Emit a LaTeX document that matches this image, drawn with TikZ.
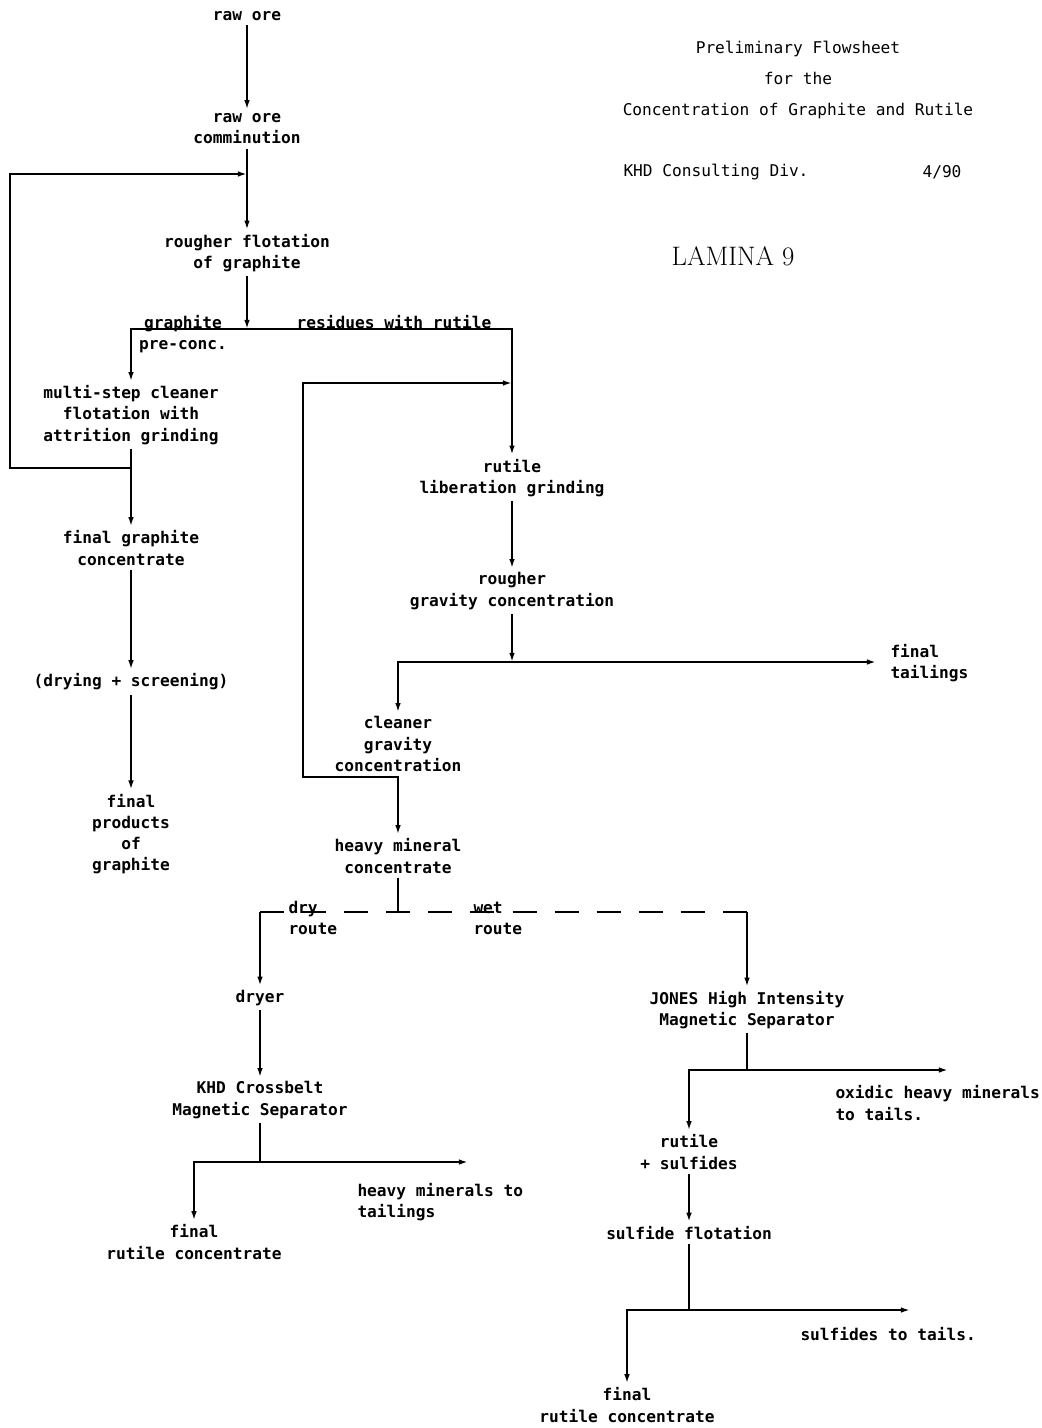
\documentclass[tikz,border=0pt]{standalone}
\usepackage{fontspec}
\setmonofont{DejaVu Sans Mono}
\usetikzlibrary{arrows.meta}

\tikzset{
  every node/.style={font=\ttfamily\bfseries\fontsize{11.5}{15}\selectfont, inner sep=3pt},
  box/.style={align=center},
  note/.style={align=left, anchor=west},
  pipe/.style={line width=1.7pt},
  flow/.style={pipe, -{Latex[length=6.5pt,width=4pt]}},
  dashpipe/.style={pipe, dash pattern=on 0.6cm off 0.452cm},
}

\begin{document}
\begin{tikzpicture}[x=0.025cm,y=-0.025cm]
    \useasboundingbox (0,0) rectangle (1041,1428);
    % header
    \node[box, font=\ttfamily\fontsize{11.5}{22}\selectfont] (title) at (798,80)
      {Preliminary Flowsheet\\for the\\Concentration of Graphite and Rutile};
    \node[note, font=\ttfamily\fontsize{11.5}{15}\selectfont] (div) at (619,172) {KHD Consulting Div.};
    \node[font=\ttfamily\fontsize{11.5}{15}\selectfont] (date) at (942,172) {4/90};
    \node[font=\rmfamily\fontsize{19}{22}\selectfont] (lamina) at (733,256) {LAMINA 9};

    % graphite line
    \node[box] (rawore) at (247,16) {raw ore};
    \node[box] (comm) at (247,129) {raw ore\\comminution};
    \node[box] (rflot) at (247,253) {rougher flotation\\of graphite};
    \node[box] (cflot) at (131,415) {multi-step cleaner\\flotation with\\attrition grinding};
    \node[box] (fgc) at (131,548) {final graphite\\concentrate};
    \node[box] (dryscr) at (131,682) {(drying + screening)};
    \node[box] (fprod) at (131,834) {final\\products\\of\\graphite};
    \node[box] (lgraph) at (183,334) {graphite\\pre-conc.};
    \node (lres) at (394,322) {residues with rutile};

    % rutile line
    \node[box] (rlib) at (512,478) {rutile\\liberation grinding};
    \node[box] (rgrav) at (512,591) {rougher\\gravity concentration};
    \node[box] (cgrav) at (398,744) {cleaner\\gravity\\concentration};
    \node[box] (hmc) at (398,856) {heavy mineral\\concentrate};
    \node[note] (ftail) at (886,663) {final\\tailings};

    % dry route
    \node[note] (ldry) at (284,918) {dry\\route};
    \node[box] (dryer) at (260,998) {dryer};
    \node[box] (khd) at (260,1100) {KHD Crossbelt\\Magnetic Separator};
    \node[note] (lhmt) at (353,1202) {heavy minerals to\\tailings};
    \node[box] (frc1) at (194,1242) {final\\rutile concentrate};

    % wet route
    \node[note] (lwet) at (469,918) {wet\\route};
    \node[box] (jones) at (747,1010) {JONES High Intensity\\Magnetic Separator};
    \node[note] (loxi) at (831,1103) {oxidic heavy minerals\\to tails.};
    \node[box] (rsulf) at (689,1152) {rutile\\+ sulfides};
    \node[box] (sflot) at (689,1233) {sulfide flotation};
    \node[note] (lsulf) at (796,1334) {sulfides to tails.};
    \node[box] (frc2) at (627,1405) {final\\rutile concentrate};

    % junctions
    \coordinate (recA) at (247,174);
    \coordinate (split1) at (247,329);
    \coordinate (loopB) at (131,468);
    \coordinate (leftB) at (10,468);
    \coordinate (recC) at (512,383);
    \coordinate (split2) at (512,662);
    \coordinate (tailend) at (876,662);
    \coordinate (loopD) at (398,777);
    \coordinate (leftD) at (303,777);
    \coordinate (split3) at (398,912);
    \coordinate (drycorner) at (260,912);
    \coordinate (wetcorner) at (747,912);
    \coordinate (split4) at (260,1162);
    \coordinate (hmtend) at (468,1162);
    \coordinate (split5) at (747,1070);
    \coordinate (oxiend) at (948,1070);
    \coordinate (split6) at (689,1310);
    \coordinate (sulfend) at (910,1310);

    % connectors
    \draw[flow] (rawore) -- (comm);
    \draw[flow] (comm) -- (rflot);
    \draw[flow] (loopB) -- (leftB) |- (recA);
    \draw[flow] (rflot) -- (split1);
    \draw[flow] (split1) -| (cflot);
    \draw[flow] (split1) -| (rlib);
    \draw[flow] (cflot) -- (fgc);
    \draw[flow] (fgc) -- (dryscr);
    \draw[flow] (dryscr) -- (fprod);

    \draw[flow] (loopD) -- (leftD) |- (recC);
    \draw[flow] (rlib) -- (rgrav);
    \draw[flow] (rgrav) -- (split2);
    \draw[flow] (split2) -| (cgrav);
    \draw[flow] (split2) -- (tailend);
    \draw[flow] (cgrav) -- (hmc);

    \draw[pipe] (hmc) -- (split3);
    \draw[dashpipe] (drycorner) -- (wetcorner);
    \draw[flow] (drycorner) -- (dryer);
    \draw[flow] (wetcorner) -- (jones);

    \draw[flow] (dryer) -- (khd);
    \draw[pipe] (khd) -- (split4);
    \draw[flow] (split4) -| (frc1);
    \draw[flow] (split4) -- (hmtend);

    \draw[pipe] (jones) -- (split5);
    \draw[flow] (split5) -| (rsulf);
    \draw[flow] (split5) -- (oxiend);
    \draw[flow] (rsulf) -- (sflot);
    \draw[pipe] (sflot) -- (split6);
    \draw[flow] (split6) -| (frc2);
    \draw[flow] (split6) -- (sulfend);
\end{tikzpicture}
\end{document}
